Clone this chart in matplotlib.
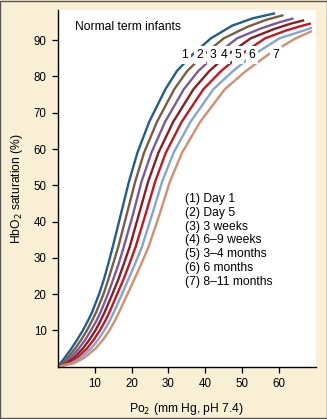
import matplotlib
matplotlib.use("Agg")
import matplotlib.pyplot as plt
from matplotlib.patches import Rectangle

plt.rcParams['font.family'] = ['Liberation Sans', 'DejaVu Sans']

# saturation levels (shared lower part of every curve)
sat_base = [0, 1, 2.5, 5, 7.5, 10, 12.5, 15, 20, 24, 28, 33, 42, 51, 59, 67.5, 76.5, 81.5, 86, 90.5]

# Po2 where each curve crosses those levels, then the top tail of each curve
po2_1 = [0, 0.8, 1.9, 3.7, 5.3, 6.8, 8.1, 9.3, 11.2, 12.5, 13.6, 14.9, 17.1, 19.3, 21.6, 24.8,
         29.2, 32.3, 36.5, 41.5, 47.3, 52.8, 58.9]
sat_1 = sat_base + [94.0, 96.0, 97.4]
po2_2 = [0, 1.4, 2.7, 4.7, 6.4, 7.9, 9.2, 10.4, 12.4, 13.7, 14.9, 16.4, 18.7, 21.0, 23.4, 26.9,
         31.6, 35.1, 39.6, 45.0, 51.5, 56.5, 61.2]
sat_2 = sat_base + [93.7, 95.6, 96.9]
po2_3 = [0, 2.0, 3.5, 5.7, 7.5, 9.0, 10.4, 11.6, 13.6, 15.0, 16.4, 17.9, 20.4, 22.7, 25.4, 29.1,
         34.2, 38.1, 42.9, 48.6, 55.0, 60.0, 63.9]
sat_3 = sat_base + [93.2, 94.9, 96.0]
po2_4 = [0, 2.5, 4.4, 6.8, 8.6, 10.2, 11.5, 12.7, 14.8, 16.4, 17.8, 19.5, 22.0, 24.5, 27.3, 31.3,
         36.8, 41.1, 46.1, 52.3, 58.5, 63.0, 66.8]
sat_4 = sat_base + [93.0, 94.5, 95.5]
po2_5 = [0, 3.2, 5.3, 7.9, 9.8, 11.4, 12.8, 14.0, 16.1, 17.8, 19.3, 21.1, 23.8, 26.4, 29.3, 33.6,
         39.5, 44.3, 49.6, 56.2, 62.0, 66.0, 68.6]
sat_5 = sat_base + [92.7, 93.9, 94.6]
po2_6 = [0, 3.8, 6.2, 9.0, 11.0, 12.6, 14.0, 15.2, 17.4, 19.1, 20.8, 22.8, 25.6, 28.3, 31.4, 36.0,
         42.2, 47.5, 53.1, 60.1, 65.0, 68.9]
sat_6 = sat_base + [92.1, 93.4]
po2_7 = [0, 4.5, 7.2, 10.2, 12.3, 14.0, 15.4, 16.6, 18.9, 20.7, 22.5, 24.6, 27.6, 30.4, 33.7, 38.6,
         45.3, 51.0, 57.0, 64.5, 68.9]
sat_7 = sat_base + [92.5]

colors = ['#1d5f8e', '#7b5c3e', '#7a5a9c', '#8e1b1f', '#c8141e', '#7ea8d2', '#d98c6c']
legend_lines = ['(1) Day 1', '(2) Day 5', '(3) 3 weeks', '(4) 6\u20139 weeks',
                '(5) 3\u20134 months', '(6) 6 months', '(7) 8\u201311 months']
num_labels = ['1', '2', '3', '4', '5', '6', '7']
num_x = [34.4, 38.6, 42.1, 45.0, 48.8, 52.7, 59.2]
num_y = [85.9, 85.9, 85.9, 85.9, 85.9, 85.9, 85.9]

po2s = [po2_1, po2_2, po2_3, po2_4, po2_5, po2_6, po2_7]
sats = [sat_1, sat_2, sat_3, sat_4, sat_5, sat_6, sat_7]

fig = plt.figure(figsize=(3.27, 4.19), dpi=100)
fig.patch.set_facecolor('#f8efd5')
ax = fig.add_axes([0.1765, 0.1246, 0.7899, 0.8515])
ax.set_facecolor('white')

for p, s, c in zip(po2s, sats, colors):
    ax.plot(p, s, color=c, lw=1.7, solid_capstyle='butt', solid_joinstyle='round', zorder=2)

for t, x, y in zip(num_labels, num_x, num_y):
    ax.text(x, y, t, fontsize=8.7, ha='center', va='center', zorder=4,
            bbox=dict(boxstyle='square,pad=0.22', fc='white', ec='none'))

ax.text(4.7, 93.5, 'Normal term infants', fontsize=8.7, va='center', ha='left')
ax.text(34.4, 47.9, '\n'.join(legend_lines), fontsize=8.7, va='top', ha='left',
        linespacing=1.2)

ax.set_xlim(0, 70)
ax.set_ylim(0, 98.3)
ax.set_xticks([10, 20, 30, 40, 50, 60])
ax.set_yticks([10, 20, 30, 40, 50, 60, 70, 80, 90])
ax.tick_params(labelsize=8.3, length=4, width=0.9, color='black', pad=4)
for side in ['top', 'right']:
    ax.spines[side].set_visible(False)
for side in ['left', 'bottom']:
    ax.spines[side].set_linewidth(1.0)
    ax.spines[side].set_color('black')

ax.set_xlabel('Po$_2$ (mm Hg, pH 7.4)', fontsize=8.7, labelpad=8)
ax.set_ylabel('HbO$_2$ saturation (%)', fontsize=8.7, labelpad=6)

fig.patches.append(Rectangle((0.0015, 0.0012), 0.997, 0.9976, transform=fig.transFigure,
                             fill=False, ec='#555555', lw=1.0))

fig.savefig('out.png', dpi=100, facecolor=fig.get_facecolor())
